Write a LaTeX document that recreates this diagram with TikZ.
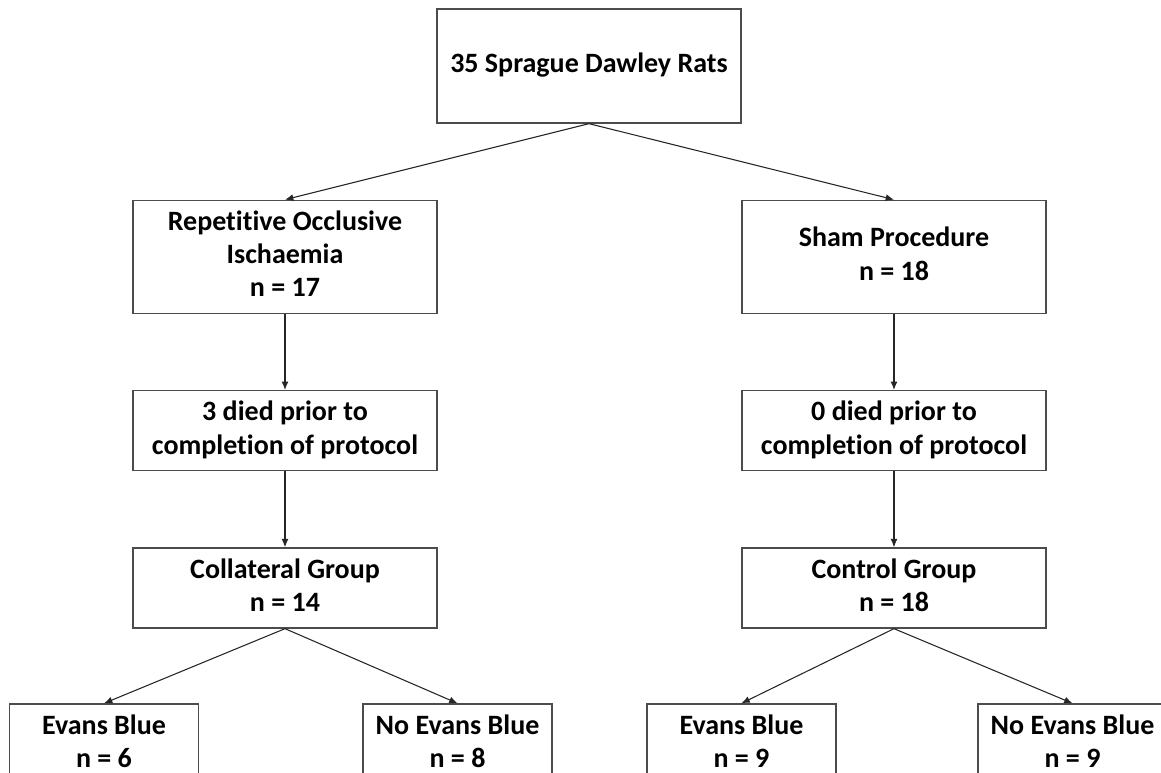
\documentclass[tikz,border=0pt]{standalone}
\usepackage{fontspec}
\setmainfont[Ligatures=NoCommon]{Carlito}
\usepackage{tikz}
\usetikzlibrary{arrows.meta,positioning}

\begin{document}
\begin{tikzpicture}[
		node distance=57pt,
		box/.style={draw=black!70, line width=1pt, align=center, inner sep=0pt, text depth=4.5pt, minimum width=228pt, minimum height=60pt, font=\fontsize{21}{25}\selectfont\bfseries},
		tallbox/.style={box, minimum height=84.75pt},
		leafbox/.style={box, minimum width=141.75pt},
		arrow/.style={-{Latex[length=2.2mm, width=1.8mm]}, line width=0.8pt, black!85}
	]
		\clip (0,0) rectangle (870.75pt,-579.75pt);
		\node[tallbox, minimum height=85.5pt] (rats) at (441.75pt,-49.5pt) {35 Sprague Dawley Rats};
		\node[tallbox, below=of rats, xshift=-228pt] (roi) {Repetitive Occlusive\\Ischaemia\\n = 17};
		\node[tallbox, below=of rats, xshift=228.75pt] (sham) {Sham Procedure\\n = 18};
		\node[box, below=of roi] (roidied) {3 died prior to\\completion of protocol};
		\node[box, below=of sham] (shamdied) {0 died prior to\\completion of protocol};
		\node[box, below=of roidied] (collat) {Collateral Group\\n = 14};
		\node[box, below=of shamdied] (control) {Control Group\\n = 18};
		\node[leafbox, below=56pt of collat, xshift=-135.75pt] (collateb) {Evans Blue\\n = 6};
		\node[leafbox, below=56pt of collat, xshift=129.4pt] (collnoeb) {No Evans Blue\\n = 8};
		\node[leafbox, below=56pt of control, xshift=-114.4pt] (conteb) {Evans Blue\\n = 9};
		\node[leafbox, below=56pt of control, xshift=133.9pt] (contnoeb) {No Evans Blue\\n = 9};
		\draw[arrow] (rats.south) -- (roi.north);
		\draw[arrow] (rats.south) -- (sham.north);
		\draw[arrow] (roi) -- (roidied);
		\draw[arrow] (sham) -- (shamdied);
		\draw[arrow] (roidied) -- (collat);
		\draw[arrow] (shamdied) -- (control);
		\draw[arrow] (collat.south) -- (collateb.north);
		\draw[arrow] (collat.south) -- (collnoeb.north);
		\draw[arrow] (control.south) -- (conteb.north);
		\draw[arrow] (control.south) -- (contnoeb.north);
	\end{tikzpicture}
\end{document}
